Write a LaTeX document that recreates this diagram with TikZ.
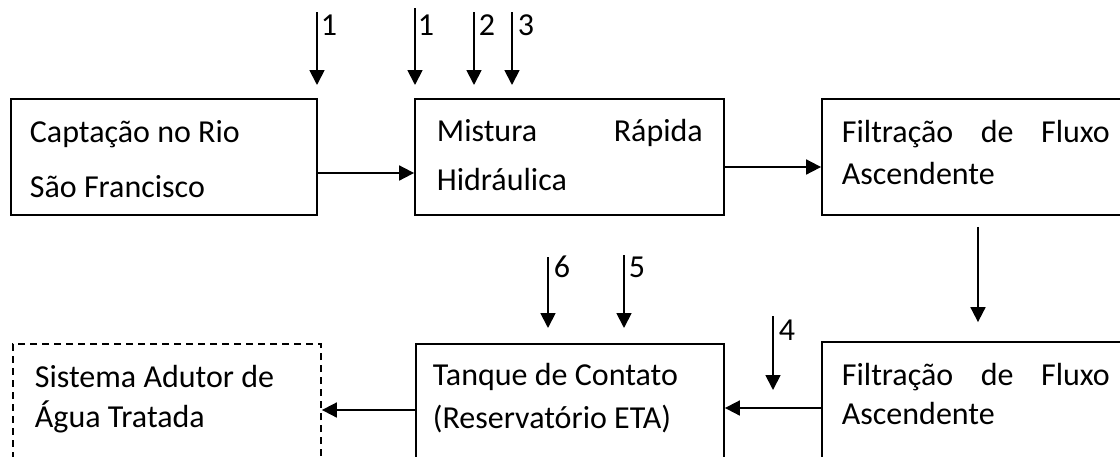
\documentclass[tikz,border=0pt]{standalone}
\usepackage{fontspec}
\setmainfont{Carlito}
\usetikzlibrary{arrows.meta}

\begin{document}
\begin{tikzpicture}[x=0.5pt, y=-0.5pt, line width=0.9pt,
  caixa/.style={draw, minimum height=58pt, inner sep=0pt},
  seta/.style={-{Triangle[length=7.5pt,width=7.5pt]}},
  texto/.style={anchor=base west, inner sep=0pt, font=\fontsize{16}{19}\selectfont}]
\useasboundingbox (0,0) rectangle (1120,456);

\node [caixa, minimum width=153pt] (captacao) at (164,157) {};
\node [caixa, minimum width=154.5pt] (mistura) at (569.5,157) {};
\node [caixa, minimum width=156pt] (filtro1) at (978,157) {};
\node [caixa, minimum width=156pt] (filtro2) at (978,400) {};
\node [caixa, minimum width=154pt] (tanque) at (570,402) {};
\node [caixa, minimum width=154pt, dash pattern=on 3.5pt off 2.5pt] (adutor) at (167,402) {};

\node [texto] (c1) at (29,142) {Captação no Rio};
\node [texto] (c2) at (29,197) {São Francisco};
\node [texto] (m1) at (436,141) {\makebox[133pt][s]{Mistura Rápida}};
\node [texto] (m2) at (436,190) {Hidráulica};
\node [texto] (f1) at (841,142) {\makebox[134pt][s]{Filtração de Fluxo}};
\node [texto] (f2) at (841,184) {Ascendente};
\node [texto] (g1) at (841,385) {\makebox[134pt][s]{Filtração de Fluxo}};
\node [texto] (g2) at (841,424) {Ascendente};
\node [texto] (t1) at (432,385) {Tanque de Contato};
\node [texto] (t2) at (432,428) {(Reservatório ETA)};
\node [texto] (s1) at (34,387) {Sistema Adutor de};
\node [texto] (s2) at (34,427) {Água Tratada};

\draw [seta] (captacao.east |- 0,173) -- (mistura.west |- 0,173);
\draw [seta] (mistura.east |- 0,167) -- (filtro1.west |- 0,167);
\draw [seta] ([yshift=-5.5pt]filtro1.south) -- ([yshift=9.5pt]filtro2.north);
\draw [seta] (filtro2.west |- 0,408) -- (tanque.east |- 0,408);
\draw [seta] (tanque.west |- 0,410) -- (adutor.east |- 0,410);

\coordinate (e1) at (317,12); \draw [seta] (e1) -- ++(0,73); \node [texto] (n1) at (320,35) {1};
\coordinate (e2) at (415,8); \draw [seta] (e2) -- ++(0,77); \node [texto] (n2) at (417,35) {1};
\coordinate (e3) at (474,12); \draw [seta] (e3) -- ++(0,73); \node [texto] (n3) at (478,35) {2};
\coordinate (e4) at (512,12); \draw [seta] (e4) -- ++(0,73); \node [texto] (n4) at (517,35) {3};
\coordinate (e6) at (548,257); \draw [seta] (e6) -- ++(0,71); \node [texto] (n6) at (553,277) {6};
\coordinate (e5) at (624,255); \draw [seta] (e5) -- ++(0,73); \node [texto] (n5) at (628,277) {5};
\coordinate (e7) at (773,316); \draw [seta] (e7) -- ++(0,74); \node [texto] (n7) at (778,340) {4};
\end{tikzpicture}
\end{document}
